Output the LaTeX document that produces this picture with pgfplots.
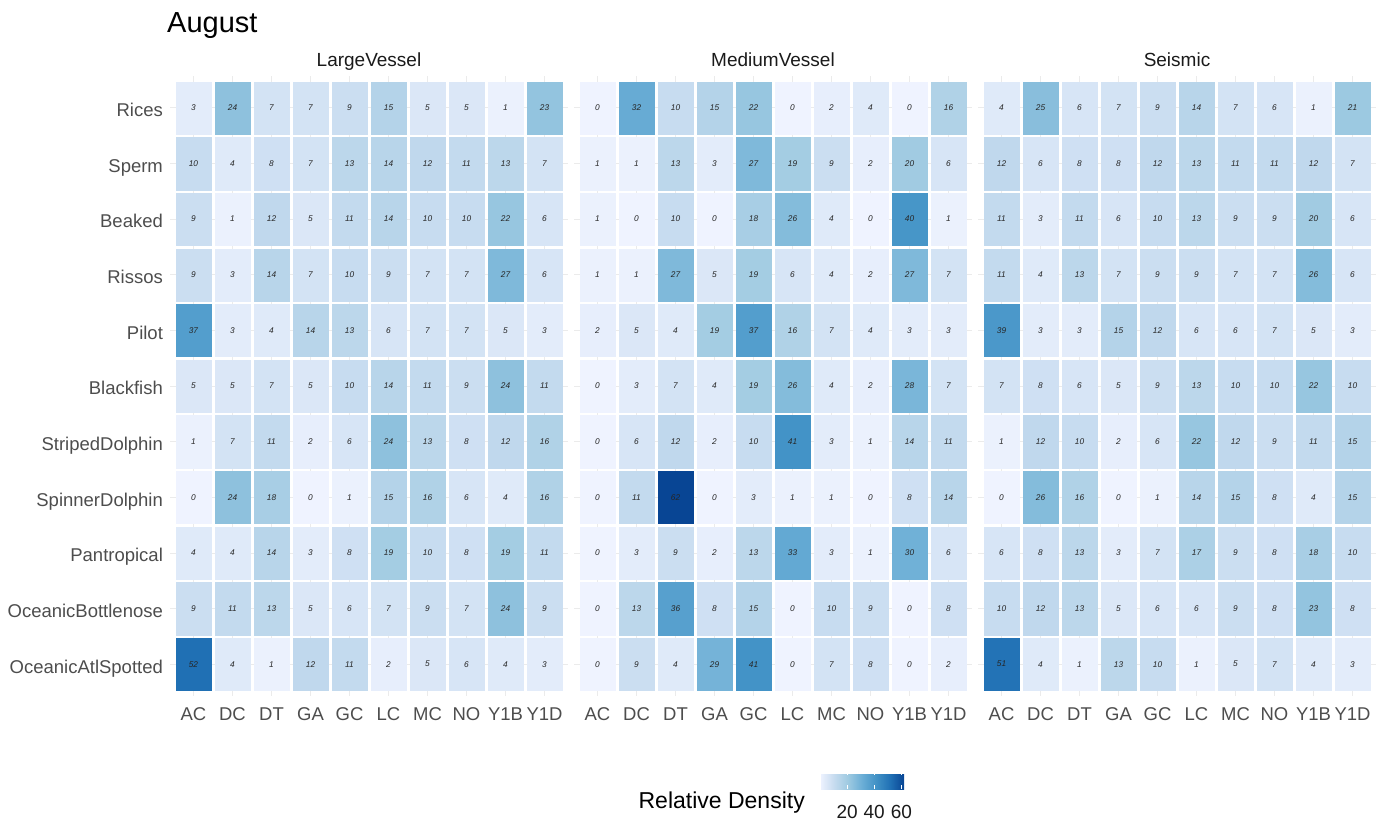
\documentclass[border=0pt]{standalone}
\usepackage{pgfplots}
\pgfplotsset{compat=1.18}
\usepackage{pgfplotstable}
\usepackage{fontspec}
\setmainfont{Liberation Sans}
\definecolor{gthirty}{HTML}{4D4D4D}
\definecolor{gten}{HTML}{1A1A1A}
\definecolor{gridc}{HTML}{EBEBEB}
\pgfplotsset{/pgf/number format/assume math mode=true}

\pgfplotstableread[row sep=\\]{
x y v\\
0 10 3\\ 1 10 24\\ 2 10 7\\ 3 10 7\\ 4 10 9\\ 5 10 15\\ 6 10 5\\ 7 10 5\\ 8 10 1\\ 9 10 23\\
0 9 10\\ 1 9 4\\ 2 9 8\\ 3 9 7\\ 4 9 13\\ 5 9 14\\ 6 9 12\\ 7 9 11\\ 8 9 13\\ 9 9 7\\
0 8 9\\ 1 8 1\\ 2 8 12\\ 3 8 5\\ 4 8 11\\ 5 8 14\\ 6 8 10\\ 7 8 10\\ 8 8 22\\ 9 8 6\\
0 7 9\\ 1 7 3\\ 2 7 14\\ 3 7 7\\ 4 7 10\\ 5 7 9\\ 6 7 7\\ 7 7 7\\ 8 7 27\\ 9 7 6\\
0 6 37\\ 1 6 3\\ 2 6 4\\ 3 6 14\\ 4 6 13\\ 5 6 6\\ 6 6 7\\ 7 6 7\\ 8 6 5\\ 9 6 3\\
0 5 5\\ 1 5 5\\ 2 5 7\\ 3 5 5\\ 4 5 10\\ 5 5 14\\ 6 5 11\\ 7 5 9\\ 8 5 24\\ 9 5 11\\
0 4 1\\ 1 4 7\\ 2 4 11\\ 3 4 2\\ 4 4 6\\ 5 4 24\\ 6 4 13\\ 7 4 8\\ 8 4 12\\ 9 4 16\\
0 3 0\\ 1 3 24\\ 2 3 18\\ 3 3 0\\ 4 3 1\\ 5 3 15\\ 6 3 16\\ 7 3 6\\ 8 3 4\\ 9 3 16\\
0 2 4\\ 1 2 4\\ 2 2 14\\ 3 2 3\\ 4 2 8\\ 5 2 19\\ 6 2 10\\ 7 2 8\\ 8 2 19\\ 9 2 11\\
0 1 9\\ 1 1 11\\ 2 1 13\\ 3 1 5\\ 4 1 6\\ 5 1 7\\ 6 1 9\\ 7 1 7\\ 8 1 24\\ 9 1 9\\
0 0 52\\ 1 0 4\\ 2 0 1\\ 3 0 12\\ 4 0 11\\ 5 0 2\\ 6 0 5\\ 7 0 6\\ 8 0 4\\ 9 0 3\\
}\LV

\pgfplotstableread[row sep=\\]{
x y v\\
0 10 0\\ 1 10 32\\ 2 10 10\\ 3 10 15\\ 4 10 22\\ 5 10 0\\ 6 10 2\\ 7 10 4\\ 8 10 0\\ 9 10 16\\
0 9 1\\ 1 9 1\\ 2 9 13\\ 3 9 3\\ 4 9 27\\ 5 9 19\\ 6 9 9\\ 7 9 2\\ 8 9 20\\ 9 9 6\\
0 8 1\\ 1 8 0\\ 2 8 10\\ 3 8 0\\ 4 8 18\\ 5 8 26\\ 6 8 4\\ 7 8 0\\ 8 8 40\\ 9 8 1\\
0 7 1\\ 1 7 1\\ 2 7 27\\ 3 7 5\\ 4 7 19\\ 5 7 6\\ 6 7 4\\ 7 7 2\\ 8 7 27\\ 9 7 7\\
0 6 2\\ 1 6 5\\ 2 6 4\\ 3 6 19\\ 4 6 37\\ 5 6 16\\ 6 6 7\\ 7 6 4\\ 8 6 3\\ 9 6 3\\
0 5 0\\ 1 5 3\\ 2 5 7\\ 3 5 4\\ 4 5 19\\ 5 5 26\\ 6 5 4\\ 7 5 2\\ 8 5 28\\ 9 5 7\\
0 4 0\\ 1 4 6\\ 2 4 12\\ 3 4 2\\ 4 4 10\\ 5 4 41\\ 6 4 3\\ 7 4 1\\ 8 4 14\\ 9 4 11\\
0 3 0\\ 1 3 11\\ 2 3 62\\ 3 3 0\\ 4 3 3\\ 5 3 1\\ 6 3 1\\ 7 3 0\\ 8 3 8\\ 9 3 14\\
0 2 0\\ 1 2 3\\ 2 2 9\\ 3 2 2\\ 4 2 13\\ 5 2 33\\ 6 2 3\\ 7 2 1\\ 8 2 30\\ 9 2 6\\
0 1 0\\ 1 1 13\\ 2 1 36\\ 3 1 8\\ 4 1 15\\ 5 1 0\\ 6 1 10\\ 7 1 9\\ 8 1 0\\ 9 1 8\\
0 0 0\\ 1 0 9\\ 2 0 4\\ 3 0 29\\ 4 0 41\\ 5 0 0\\ 6 0 7\\ 7 0 8\\ 8 0 0\\ 9 0 2\\
}\MV

\pgfplotstableread[row sep=\\]{
x y v\\
0 10 4\\ 1 10 25\\ 2 10 6\\ 3 10 7\\ 4 10 9\\ 5 10 14\\ 6 10 7\\ 7 10 6\\ 8 10 1\\ 9 10 21\\
0 9 12\\ 1 9 6\\ 2 9 8\\ 3 9 8\\ 4 9 12\\ 5 9 13\\ 6 9 11\\ 7 9 11\\ 8 9 12\\ 9 9 7\\
0 8 11\\ 1 8 3\\ 2 8 11\\ 3 8 6\\ 4 8 10\\ 5 8 13\\ 6 8 9\\ 7 8 9\\ 8 8 20\\ 9 8 6\\
0 7 11\\ 1 7 4\\ 2 7 13\\ 3 7 7\\ 4 7 9\\ 5 7 9\\ 6 7 7\\ 7 7 7\\ 8 7 26\\ 9 7 6\\
0 6 39\\ 1 6 3\\ 2 6 3\\ 3 6 15\\ 4 6 12\\ 5 6 6\\ 6 6 6\\ 7 6 7\\ 8 6 5\\ 9 6 3\\
0 5 7\\ 1 5 8\\ 2 5 6\\ 3 5 5\\ 4 5 9\\ 5 5 13\\ 6 5 10\\ 7 5 10\\ 8 5 22\\ 9 5 10\\
0 4 1\\ 1 4 12\\ 2 4 10\\ 3 4 2\\ 4 4 6\\ 5 4 22\\ 6 4 12\\ 7 4 9\\ 8 4 11\\ 9 4 15\\
0 3 0\\ 1 3 26\\ 2 3 16\\ 3 3 0\\ 4 3 1\\ 5 3 14\\ 6 3 15\\ 7 3 8\\ 8 3 4\\ 9 3 15\\
0 2 6\\ 1 2 8\\ 2 2 13\\ 3 2 3\\ 4 2 7\\ 5 2 17\\ 6 2 9\\ 7 2 8\\ 8 2 18\\ 9 2 10\\
0 1 10\\ 1 1 12\\ 2 1 13\\ 3 1 5\\ 4 1 6\\ 5 1 6\\ 6 1 9\\ 7 1 8\\ 8 1 23\\ 9 1 8\\
0 0 51\\ 1 0 4\\ 2 0 1\\ 3 0 13\\ 4 0 10\\ 5 0 1\\ 6 0 5\\ 7 0 7\\ 8 0 4\\ 9 0 3\\
}\SE

\pgfplotsset{
  colormap={gg}{rgb255=(239,243,255) rgb255=(198,219,239) rgb255=(158,202,225) rgb255=(107,174,214) rgb255=(66,146,198) rgb255=(33,113,181) rgb255=(8,69,148)},
  hm/.style={
    scale only axis, width=397.8pt, height=619.8pt,
    xmin=-0.6, xmax=9.6, ymin=-0.57, ymax=10.57,
    xtick={0,...,9}, xticklabels={AC,DC,DT,GA,GC,LC,MC,NO,Y1B,Y1D},
    ytick={0,...,10},
    axis line style={draw=none},
    major tick length=0pt,
    xmajorgrids, ymajorgrids, grid style={gridc, line width=0.7pt},
    point meta min=0, point meta max=62,
    xticklabel style={font=\fontsize{18.5}{20}\selectfont, text=gthirty, anchor=north, inner sep=0pt, yshift=-11.8pt},
    yticklabel style={font=\fontsize{18.5}{20}\selectfont, text=gthirty, anchor=base east, inner sep=0pt, xshift=-7pt, yshift=-8.9pt},
    title style={font=\fontsize{19}{21}\selectfont, text=gten, at={(0.5,1)}, anchor=base, yshift=4pt, inner sep=0pt},
  },
  tiles/.style={scatter, only marks, scatter src=explicit, mark=square*, mark size=17.8pt,
    mark options={yscale=1.47, line width=0.1pt},
    scatter/use mapped color={draw=mapped color, fill=mapped color}},
  nums/.style={only marks, mark=none, point meta=explicit, nodes near coords,
    every node near coord/.append style={font=\fontsize{8.3}{9}\selectfont\itshape, text=black!85, inner sep=0pt, anchor=center}},
}

\begin{document}
\begin{tikzpicture}
\useasboundingbox (0,0) rectangle (1386pt,824pt);

\begin{axis}[hm, at={(170.1pt,128.1pt)}, anchor=south west, title=LargeVessel,
  yticklabels={OceanicAtlSpotted,OceanicBottlenose,Pantropical,SpinnerDolphin,StripedDolphin,Blackfish,Pilot,Rissos,Beaked,Sperm,Rices}]
\addplot[tiles] table[x=x,y=y,meta=v]{\LV};
\addplot[nums] table[x=x,y=y,meta=v]{\LV};
\end{axis}

\begin{axis}[hm, at={(574.1pt,128.1pt)}, anchor=south west, title=MediumVessel, yticklabels={},
  colorbar horizontal,
  colorbar style={at={(0.6182,-0.1212)}, anchor=north west, scale only axis, width=84pt, height=18pt,
    xtick={20,40,60}, axis line style={draw=none}, tick align=inside, xtick pos=both, xticklabel pos=lower,
    major tick length=3.6pt, xtick style={white, line width=0.8pt},
    xticklabel style={font=\fontsize{19}{20}\selectfont, text=gten, inner sep=0pt, anchor=north, yshift=-16pt}}]
\addplot[tiles] table[x=x,y=y,meta=v]{\MV};
\addplot[nums] table[x=x,y=y,meta=v]{\MV};
\end{axis}

\begin{axis}[hm, at={(978.1pt,128.1pt)}, anchor=south west, title=Seismic, yticklabels={}]
\addplot[tiles] table[x=x,y=y,meta=v]{\SE};
\addplot[nums] table[x=x,y=y,meta=v]{\SE};
\end{axis}

\node[anchor=base west, inner sep=0pt, font=\fontsize{29}{32}\selectfont] at (167pt,791.7pt) {August};
\node[anchor=base east, inner sep=0pt, font=\fontsize{23}{25}\selectfont] at (805pt,15.7pt) {Relative Density};
\end{tikzpicture}
\end{document}
